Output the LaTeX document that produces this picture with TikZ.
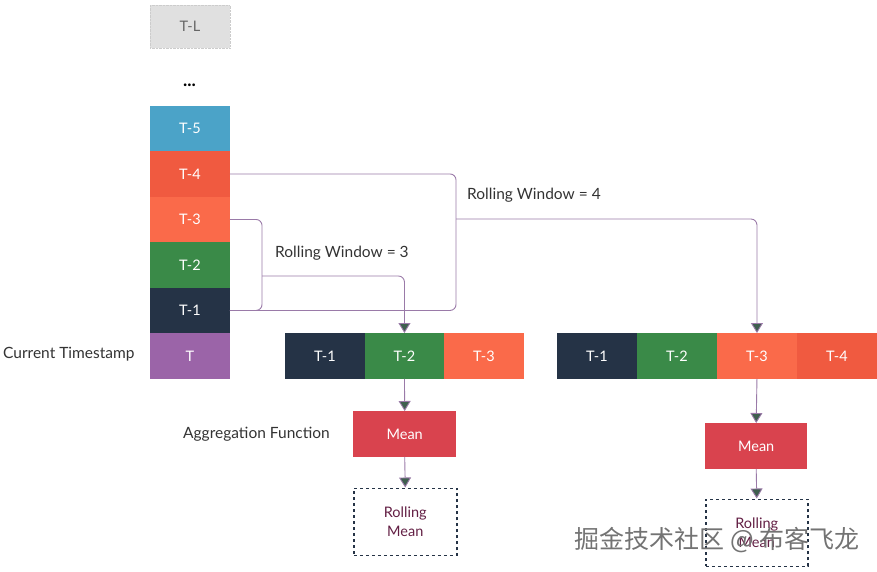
\documentclass[tikz,border=0pt]{standalone}
\usepackage{fontspec}
\setmainfont{Lato}
\newfontfamily\cjk{Noto Sans CJK SC}
\usetikzlibrary{arrows.meta}
\definecolor{cblue}{HTML}{4BA3C8}
\definecolor{cred}{HTML}{F05A40}
\definecolor{corange}{HTML}{FA6A4A}
\definecolor{cgreen}{HTML}{3A8A48}
\definecolor{cnavy}{HTML}{253346}
\definecolor{cpurple}{HTML}{9B64A8}
\definecolor{cmean}{HTML}{D9434E}
\definecolor{cline}{HTML}{9A7AA8}
\definecolor{carrow}{HTML}{3F5F4F}
\begin{document}
\begin{tikzpicture}[x=1pt,y=-1pt,
 cell/.style={minimum width=79.5pt,minimum height=45.5pt,inner sep=0pt,text=white,font=\fontsize{14.5}{19}\selectfont,anchor=north west},
 lbl/.style={text=black!80,font=\fontsize{15.5}{18}\selectfont,inner sep=0pt},
 conn/.style={draw=cline,line width=0.9pt,rounded corners=6pt},
 arr/.style={draw=cline,line width=0.9pt,-{Triangle[width=12pt,length=10pt,fill=carrow]}}]
\useasboundingbox (0,0) rectangle (877,571);
% column
\node[cell,fill=black!12,draw=black!20,densely dotted,text=black!60,minimum height=43pt] (tl) at (150,5) {T-L};
\node[font=\fontsize{18}{18}\bfseries,inner sep=0pt] (dots) at (189.5,85) {...};
\node[cell,fill=cblue] (t5) at (150,105.5) {T-5};
\node[cell,fill=cred] (t4) at (150,151) {T-4};
\node[cell,fill=corange] (t3) at (150,196.5) {T-3};
\node[cell,fill=cgreen] (t2) at (150,242) {T-2};
\node[cell,fill=cnavy] (t1) at (150,287.5) {T-1};
\node[cell,fill=cpurple] (t0) at (150,333) {T};
\node[lbl,anchor=west] (cur) at (3,354) {Current Timestamp};
% row 1
\node[cell,fill=cnavy] (a1) at (285,333) {T-1};
\node[cell,fill=cgreen] (a2) at (364.5,333) {T-2};
\node[cell,fill=corange] (a3) at (444,333) {T-3};
% row 2
\node[cell,fill=cnavy] (b1) at (557,333) {T-1};
\node[cell,fill=cgreen] (b2) at (637,333) {T-2};
\node[cell,fill=corange] (b3) at (717,333) {T-3};
\node[cell,fill=cred] (b4) at (797,333) {T-4};
% means
\node[cell,fill=cmean,minimum width=103pt] (m1) at (353,411) {Mean};
\node[cell,fill=cmean,minimum width=102pt] (m2) at (705,423) {Mean};
\node[cell,draw=cnavy,dashed,line width=1.5pt,fill=white,text=cnavy!60!purple,minimum width=103pt,minimum height=67pt,align=center] (r1) at (353,487.5) {Rolling\\Mean};
\node[cell,draw=cnavy,dashed,line width=1.5pt,fill=white,text=cnavy!60!purple,minimum width=102pt,minimum height=67pt,align=center] (r2) at (705,498.5) {Rolling\\Mean};
\node[lbl,anchor=west] (agg) at (183,434) {Aggregation Function};
\node[lbl,anchor=west] (w3) at (275,253) {Rolling Window = 3};
\node[lbl,anchor=west] (w4) at (467,195) {Rolling Window = 4};
% brackets
\coordinate (k3) at (262,276);
\coordinate (k4) at (456,219);
\draw[conn] (t3.east) -| (k3) |- (t1.east);
\draw[conn,draw=black!70] (t1.east) -- ++(40,0);
\draw[conn] (t4.east) -| (k4) |- (t1.east);
\draw[arr,rounded corners=6pt] (k3) -| (a2.north);
\draw[arr,rounded corners=6pt] (k4) -| (b3.north);
\draw[arr] (a2.south) -- (m1.north);
\draw[arr] (m1.south) -- (r1.north);
\draw[arr] (b3.south) -- (m2.north);
\draw[arr] (m2.south) -- (r2.north);
% watermark
\node[font=\cjk\fontsize{25}{27}\selectfont,text=black!55,inner sep=0pt] (wm) at (717,540) {掘金技术社区 @ 布客飞龙};
\end{tikzpicture}
\end{document}
